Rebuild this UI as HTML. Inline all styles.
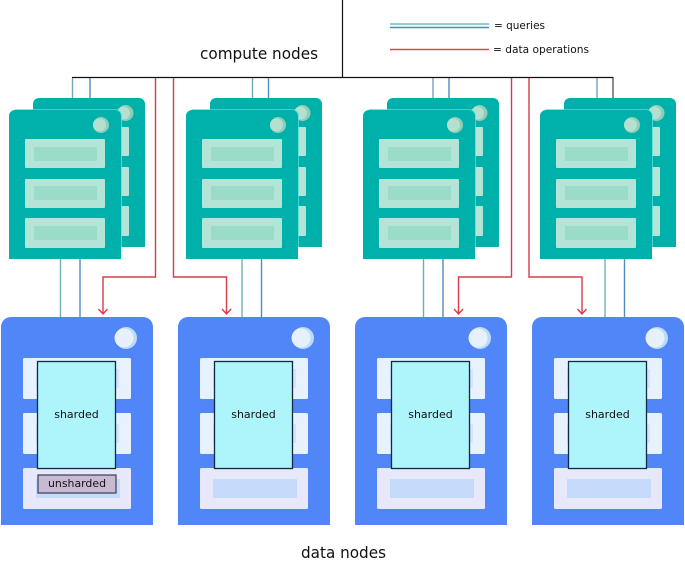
<!DOCTYPE html>
<html><head><meta charset="utf-8"><style>
html,body{margin:0;padding:0;background:#fff;width:685px;height:573px;overflow:hidden}
svg{display:block}
text{font-family:"DejaVu Sans","Liberation Sans",sans-serif;fill:#111}
</style></head><body>
<svg width="685" height="573" viewBox="0 0 685 573" xmlns="http://www.w3.org/2000/svg">
<defs>
<g id="cn">
  <path d="M33 247V104a6 6 0 0 1 6-6H139a6 6 0 0 1 6 6V247Z" fill="#00b0aa"/>
  <rect x="110" y="127" width="19" height="29" rx="1" fill="#b4e3d7"/>
  <rect x="110" y="167" width="19" height="29" rx="1" fill="#b4e3d7"/>
  <rect x="110" y="206" width="19" height="30" rx="1" fill="#b4e3d7"/>
  <circle cx="125.500" cy="113" r="8" fill="#92ccb6"/>
  <circle cx="123.500" cy="113" r="6.500" fill="#b3e0d0"/>
  <path d="M9 259V116a6 6 0 0 1 6-6H115a6 6 0 0 1 6 6V259Z" fill="#00b0aa"/>
  <path d="M15 109.500H115a6.500 6.500 0 0 1 6.500 6.500V247" fill="none" stroke="#5adcdc" stroke-width="0.800"/>
  <rect x="25" y="139" width="80" height="29" rx="1" fill="#b4e3d7"/>
  <rect x="25" y="179" width="80" height="29" rx="1" fill="#b4e3d7"/>
  <rect x="25" y="218" width="80" height="30" rx="1" fill="#b4e3d7"/>
  <rect x="34" y="147" width="63" height="14" fill="#9adcc8"/>
  <rect x="34" y="186" width="63" height="14" fill="#9adcc8"/>
  <rect x="34" y="226" width="63" height="14" fill="#9adcc8"/>
  <circle cx="101" cy="125" r="8" fill="#8fceb8"/>
  <circle cx="99.500" cy="125" r="6.500" fill="#b3e0d0"/>
</g>
<g id="dn">
  <path d="M1 525V327a10 10 0 0 1 10-10H143a10 10 0 0 1 10 10V525Z" fill="#5186f8"/>
  <rect x="23" y="358" width="108" height="41" rx="1.500" fill="#e8f1fe"/>
  <rect x="23" y="413" width="108" height="41" rx="1.500" fill="#e8f1fe"/>
  <rect x="23" y="468" width="108" height="41" rx="1.500" fill="#e7e9fa"/>
  <rect x="36" y="479" width="84" height="19" fill="#c6dbfc"/>
  <rect x="36" y="369" width="83" height="19" fill="#d6e4fb"/>
  <rect x="36" y="424" width="83" height="19" fill="#d6e4fb"/>
  <circle cx="126" cy="338" r="11" fill="#bcdcf6"/>
  <circle cx="124" cy="338" r="9.500" fill="#e6f1fd"/>
  <rect x="37.500" y="361.500" width="78" height="107" fill="#aef4fb" stroke="#0f2a44" stroke-width="1.300"/>
  <text x="76.500" y="418" font-size="11" text-anchor="middle">sharded</text>
</g>
</defs>
<rect width="685" height="573" fill="#fff"/>
<g fill="none" stroke-width="1.400">
  <path d="M72.500 78V98M252.500 78V98M433 78V98M597 78V98" stroke="#6fa8b8"/>
  <path d="M90 78V98M268.500 78V98M449 78V98" stroke="#4f8cc0"/>
  <path d="M613 78V98" stroke="#666" stroke-width="1.500"/>
</g>
<use href="#cn" x="0"/>
<use href="#cn" x="177"/>
<use href="#cn" x="354"/>
<use href="#cn" x="531"/>
<g fill="none" stroke-width="1.400">
  <path d="M60.500 259V318M242 259V318M423.500 259V318M605 259V318" stroke="#6fb0b8"/>
  <path d="M80 259V318M261.500 259V318M443 259V318M624.500 259V318" stroke="#4f8cc0"/>
</g>
<g fill="none" stroke="#d83c46" stroke-width="1.400">
  <path d="M155.500 78V277H103V313.500"/>
  <path d="M173.500 78V277H226.500V313.500"/>
  <path d="M511.500 78V277H458.500V313.500"/>
  <path d="M529 78V277H582V313.500"/>
  <path d="M98.500 309L103 314L107.500 309"/>
  <path d="M222 309L226.500 314L231 309"/>
  <path d="M454 309L458.500 314L463 309"/>
  <path d="M577.500 309L582 314L586.500 309"/>
</g>
<path d="M72 77.500H613.500M342.500 0V77" fill="none" stroke="#111" stroke-width="1.200"/>
<use href="#dn" x="0"/>
<use href="#dn" x="177"/>
<use href="#dn" x="354"/>
<use href="#dn" x="531"/>
<rect x="38" y="475" width="78" height="18" fill="#c9b9d2" stroke="#3f4a5e" stroke-width="1.300"/>
<text x="77" y="487" font-size="11" text-anchor="middle" textLength="58" lengthAdjust="spacingAndGlyphs">unsharded</text>
<path d="M390 24H489" stroke="#6fc0aa" stroke-width="1.400"/>
<path d="M390 27.500H489" stroke="#4f88c4" stroke-width="1.400"/>
<path d="M390 49.500H489" stroke="#dd4550" stroke-width="1.400"/>
<text x="494" y="29" font-size="11" textLength="51" lengthAdjust="spacingAndGlyphs">= queries</text>
<text x="493" y="53" font-size="11" textLength="96" lengthAdjust="spacingAndGlyphs">= data operations</text>
<text x="200" y="59" font-size="16" textLength="118" lengthAdjust="spacingAndGlyphs">compute nodes</text>
<text x="301" y="558" font-size="16" textLength="85" lengthAdjust="spacingAndGlyphs">data nodes</text>
</svg>
</body></html>
